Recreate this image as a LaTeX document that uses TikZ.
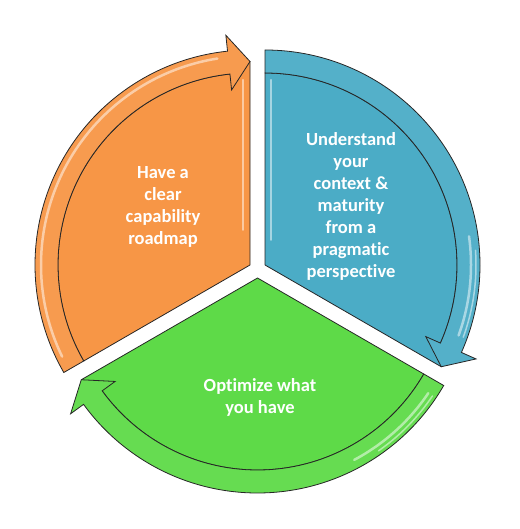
\documentclass[tikz,border=0pt]{standalone}
\usepackage{fontspec}
\setsansfont[Ligatures = NoCommon]{Carlito}
\definecolor{orangefill}{RGB}{247,150,70}
\definecolor{bluefill}{RGB}{75,172,198}
\definecolor{greenfill}{RGB}{94,218,72}

\begin{document}
\begin{tikzpicture}[x = 1pt, y = 1pt]
\tikzstyle{BodyStyle}=[draw = black!85, line width = 0.8pt, line join = round]
\tikzstyle{BandStyle}=[draw = black!85, line width = 0.8pt, line join = miter]
\tikzstyle{GlossStyle}=[white, line cap = round, opacity = 0.5]
\tikzstyle{LabelStyle}=[text = white,
                        font = \sffamily\bfseries\fontsize{18.5}{22}\selectfont,
                        align = center]
\useasboundingbox (0,0) rectangle (519,529);

% orange piece, arrow to the top
\begin{scope}[shift = {(250,264)}]
\filldraw[BodyStyle, fill = orangefill] (0,0) -- (210:192)
  arc[start angle = 210, end angle = 96, radius = 192] -- (90:203.5) -- cycle;
\filldraw[BandStyle, fill = orangefill!95!white] (210:215)
  arc[start angle = 210, end angle = 96, radius = 215] -- (96:231) -- (90:203.5)
  -- (96:176) -- (96:192) arc[start angle = 96, end angle = 210, radius = 192] -- cycle;
\draw[GlossStyle, line width = 2.5pt] (206:209) arc[start angle = 206, end angle = 99, radius = 209];
\draw[GlossStyle, line width = 2pt] (-7,185) -- (-7,35);
\end{scope}

% blue piece, arrow to the lower right
\begin{scope}[shift = {(265,264)}]
\filldraw[BodyStyle, fill = bluefill] (0,0) -- (90:192)
  arc[start angle = 90, end angle = -24, radius = 192] -- (-30:203.5) -- cycle;
\filldraw[BandStyle, fill = bluefill!95!white] (90:215)
  arc[start angle = 90, end angle = -24, radius = 215] -- (-24:231) -- (-30:203.5)
  -- (-24:176) -- (-24:192) arc[start angle = -24, end angle = 90, radius = 192] -- cycle;
\draw[GlossStyle, line width = 2.5pt] (8:206) arc[start angle = 8, end angle = -20, radius = 206];
\draw[GlossStyle, line width = 1.5pt] (4:211) arc[start angle = 4, end angle = -20, radius = 211];
\draw[GlossStyle, line width = 2pt] (6,185) -- (6,25);
\end{scope}

% green piece, arrow to the lower left
\begin{scope}[shift = {(257.5,251)}]
\filldraw[BodyStyle, fill = greenfill] (0,0) -- (-30:192)
  arc[start angle = -30, end angle = -144, radius = 192] -- (-150:203.5) -- cycle;
\filldraw[BandStyle, fill = greenfill!95!white] (-30:215)
  arc[start angle = -30, end angle = -144, radius = 215] -- (-144:231) -- (-150:203.5)
  -- (-144:176) -- (-144:192) arc[start angle = -144, end angle = -30, radius = 192] -- cycle;
\draw[GlossStyle, line width = 2.5pt] (-34:206) arc[start angle = -34, end angle = -62, radius = 206];
\draw[GlossStyle, line width = 1.5pt] (-34:211) arc[start angle = -34, end angle = -55, radius = 211];
\end{scope}

\node[LabelStyle] (roadmap) at (163,322) {Have a\\clear\\capability\\roadmap};
\node[LabelStyle] (context) at (351,323) {Understand\\your\\context \&\\maturity\\from a\\pragmatic\\perspective};
\node[LabelStyle] (optimize) at (260,132) {Optimize what\\you have};
\end{tikzpicture}
\end{document}
